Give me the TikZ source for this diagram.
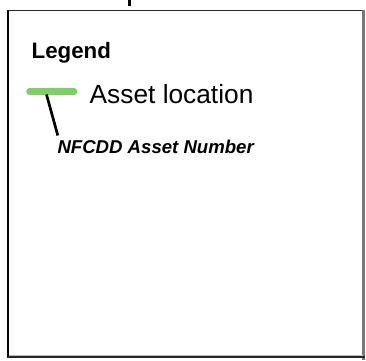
\documentclass[tikz,border=0pt]{standalone}
\usepackage{fontspec}
\setmainfont{Liberation Sans}
\definecolor{assetgreen}{RGB}{128,206,104}
\definecolor{frameA}{RGB}{40,40,40}
\definecolor{frameB}{RGB}{120,120,120}
\begin{document}
\begin{tikzpicture}[x=1pt,y=-1pt,
  lbl/.style={inner sep=0pt,anchor=base west},
  ]
\useasboundingbox (0,0) rectangle (366,360);
% frame
\draw[frameA,line width=1.5pt] (7.5,10.5) -- (363.5,10.5);
\draw[black,line width=2pt] (7.5,10) -- (7.5,357);
\draw[frameB,line width=2.2pt] (363.5,10) -- (363.5,360);
\draw[frameA,line width=2pt] (6.5,357) -- (364.5,357);
\draw[frameB!50,line width=0.8pt] (8.5,355.6) -- (362.5,355.6);
% cut-off mark at top
\draw[black,line width=2.8pt] (129.7,0) -- (129.7,6);
% legend
\node[lbl,font=\fontsize{22.3}{26}\selectfont\bfseries] (legend) at (31.5,58.5) {Legend};
\coordinate (gA) at (29.5,91.8);
\coordinate (gB) at (74,91.8);
\draw[assetgreen,line width=6.7pt,line cap=round] (gA) -- (gB);
\node[lbl,font=\fontsize{26.3}{30}\selectfont] (asset) at (89.5,103.8) {Asset location};
\node[lbl,font=\fontsize{18.6}{22}\selectfont\bfseries\itshape] (nfcdd) at (57.3,153.3) {NFCDD Asset Number};
\coordinate (pA) at (46.5,94.5);
\coordinate (pB) at (57.8,135.5);
\draw[black,line width=2.7pt] (pA) -- (pB);
\end{tikzpicture}
\end{document}
